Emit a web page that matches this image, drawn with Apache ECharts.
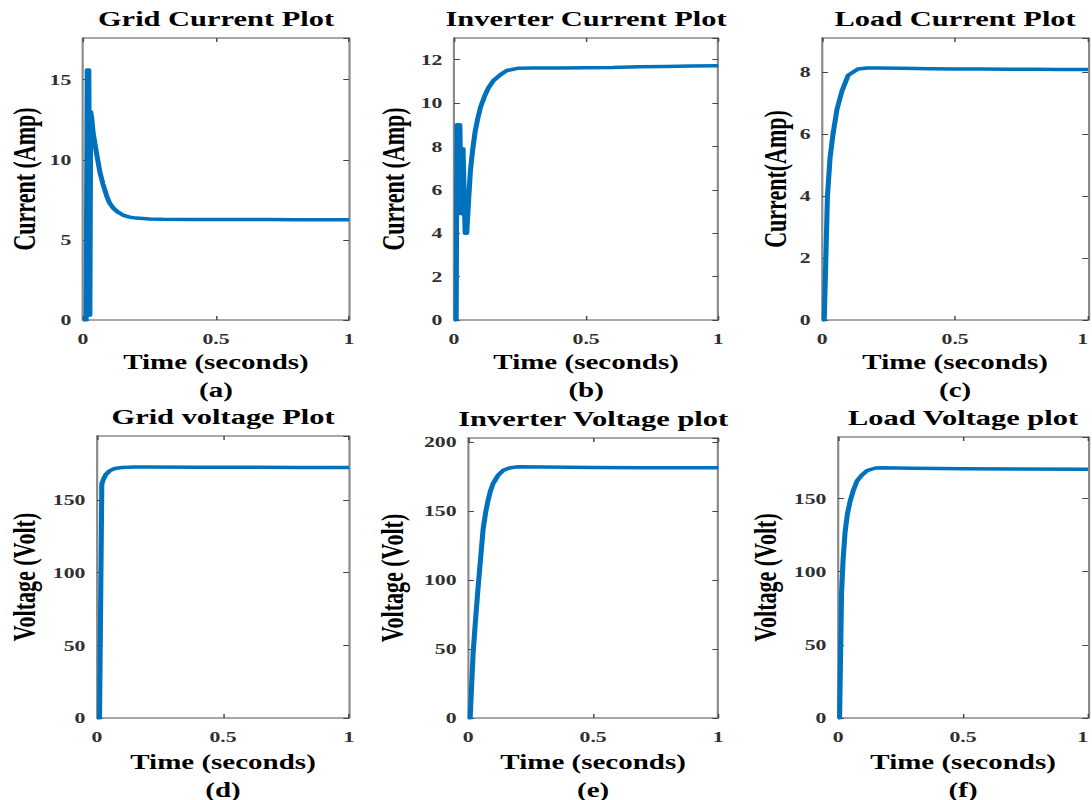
<!DOCTYPE html>
<html>
<head>
<meta charset="utf-8">
<script src="https://cdn.jsdelivr.net/npm/echarts@6/dist/echarts.min.js"></script>
<style>
  html, body { margin: 0; padding: 0; background: #fff; overflow: hidden; width: 1092px; height: 800px; }
  /* figure is laid out on a narrower canvas and widened like the exported figure */
  #chart { width: 753px; height: 800px; transform: scaleX(1.4502); transform-origin: 0 0; }
</style>
</head>
<body>
<div id="chart"></div>
<script>
// ---- simulation samples: time in seconds, values in A / V ----
const gridCurrentTime = [0, 0.012, 0.016, 0.022, 0.026, 0.029, 0.033, 0.038, 0.05, 0.064, 0.075, 0.09, 0.1, 0.113, 0.13, 0.15, 0.175, 0.2, 0.25, 0.3, 0.4, 0.5, 0.6, 0.7, 0.8, 0.9, 1.0];
const gridCurrentAmp  = [0, 0, 15.6, 15.6, 0.3, 13.0, 12.6, 11.7, 10.5, 9.2, 8.5, 7.7, 7.3, 7.0, 6.75, 6.55, 6.42, 6.36, 6.31, 6.29, 6.28, 6.28, 6.27, 6.27, 6.26, 6.26, 6.26];

const invCurrentTime = [0, 0.008, 0.011, 0.022, 0.027, 0.034, 0.042, 0.048, 0.055, 0.062, 0.07, 0.08, 0.09, 0.1, 0.115, 0.13, 0.15, 0.175, 0.2, 0.24, 0.3, 0.4, 0.5, 0.6, 0.7, 0.8, 0.9, 1.0];
const invCurrentAmp  = [0, 0, 9.0, 9.0, 4.9, 7.9, 4.0, 4.0, 5.5, 6.9, 7.8, 8.7, 9.3, 9.8, 10.3, 10.7, 11.05, 11.3, 11.5, 11.6, 11.62, 11.62, 11.63, 11.64, 11.67, 11.69, 11.71, 11.72];

const loadCurrentTime = [0, 0.008, 0.02, 0.03, 0.041, 0.056, 0.075, 0.098, 0.135, 0.17, 0.2, 0.3, 0.4, 0.5, 0.6, 0.7, 0.8, 0.9, 1.0];
const loadCurrentAmp  = [0, 0, 4.0, 5.25, 6.0, 6.8, 7.4, 7.9, 8.1, 8.13, 8.13, 8.12, 8.11, 8.1, 8.1, 8.09, 8.09, 8.08, 8.08];

const gridVoltageTime = [0, 0.01, 0.019, 0.025, 0.035, 0.05, 0.07, 0.1, 0.15, 0.2, 0.4, 0.6, 0.8, 1.0];
const gridVoltageVolt = [0, 0, 161, 164, 167.5, 170, 171.6, 172.3, 172.6, 172.6, 172.5, 172.5, 172.4, 172.4];

const invVoltageTime = [0, 0.008, 0.02, 0.03, 0.04, 0.05, 0.06, 0.07, 0.08, 0.09, 0.1, 0.12, 0.14, 0.17, 0.2, 0.3, 0.5, 0.7, 1.0];
const invVoltageVolt = [0, 0, 47, 72, 95, 116, 137, 149, 158, 165, 170, 176, 179.5, 181.5, 182.2, 182, 181.6, 181.5, 181.4];

const loadVoltageTime = [0, 0.006, 0.014, 0.02, 0.028, 0.037, 0.048, 0.062, 0.076, 0.095, 0.116, 0.15, 0.17, 0.3, 0.5, 0.7, 1.0];
const loadVoltageVolt = [0, 0, 86, 108, 127, 139, 148, 156, 162, 166, 169, 170.8, 171, 170.6, 170.3, 170.2, 170];

// ---- axis settings and texts ----
const panelTitles = ['Grid Current Plot', 'Inverter Current Plot', 'Load Current Plot',
                     'Grid voltage Plot', 'Inverter Voltage plot', 'Load Voltage plot'];
const yAxisNames  = ['Current (Amp)', 'Current (Amp)', 'Current(Amp)',
                     'Voltage (Volt)', 'Voltage (Volt)', 'Voltage (Volt)'];
const captions    = ['(a)', '(b)', '(c)', '(d)', '(e)', '(f)'];
const xAxisName   = 'Time (seconds)';
const yMax        = [17.6, 13, 9.1, 194, 203, 192];
const yStep       = [5, 2, 2, 50, 50, 50];
const xMin = 0, xMax = 1, xStep = 0.5;

const seriesTime   = [gridCurrentTime, invCurrentTime, loadCurrentTime, gridVoltageTime, invVoltageTime, loadVoltageTime];
const seriesValues = [gridCurrentAmp, invCurrentAmp, loadCurrentAmp, gridVoltageVolt, invVoltageVolt, loadVoltageVolt];

// plot boxes (px on the layout canvas); edge: right-most column keeps its last x label inside the page
const boxes = [
  { left: 57.2,  top: 38,  width: 183.5, height: 282, yGap: 29, xGap: 28, edge: false },
  { left: 313.1, top: 38,  width: 182.1, height: 282, yGap: 31, xGap: 28, edge: false },
  { left: 566.9, top: 38,  width: 183.4, height: 282, yGap: 21, xGap: 28, edge: true },
  { left: 66.9,  top: 436, width: 173.8, height: 282, yGap: 39, xGap: 30, edge: false },
  { left: 322.8, top: 438, width: 172.4, height: 280, yGap: 41, xGap: 30, edge: false },
  { left: 577.9, top: 437, width: 172.4, height: 281, yGap: 39, xGap: 30, edge: true }
];

const FONT = "'Liberation Serif', 'Times New Roman', 'DejaVu Serif', serif";
const BOX_COLOR = '#8a8a8a';
const LINE_COLOR = '#0072BD';

const grid = [], xAxis = [], yAxis = [], series = [], title = [];

boxes.forEach((b, i) => {
  grid.push({ left: b.left, top: b.top, width: b.width, height: b.height, containLabel: false, outerBoundsMode: 'none' });

  title.push({
    text: panelTitles[i],
    left: b.left + b.width / 2,
    top: b.top - 29,
    textAlign: 'center',
    padding: 0,
    textStyle: { fontFamily: FONT, fontWeight: 'bold', fontSize: 21, color: '#000' }
  });

  const boxLine = { show: true, onZero: false, lineStyle: { color: BOX_COLOR, width: 1.5 } };
  const tick = { show: true, inside: true, length: 4, lineStyle: { color: '#444', width: 1 } };
  const tickLabel = { fontFamily: FONT, fontWeight: 'bold', fontSize: 15, color: '#303030' };

  const xLabel = Object.assign({ margin: 11 }, tickLabel);
  if (b.edge) xLabel.alignMaxLabel = 'right';

  xAxis.push({
    type: 'value', gridIndex: i, position: 'bottom', min: xMin, max: xMax, interval: xStep,
    axisLine: boxLine, axisTick: tick, splitLine: { show: false },
    axisLabel: xLabel,
    name: xAxisName + '\n' + captions[i], nameLocation: 'middle', nameGap: b.xGap, nameMoveOverlap: false,
    nameTextStyle: { fontFamily: FONT, fontWeight: 'bold', fontSize: 20, lineHeight: 28, color: '#000' }
  });
  xAxis.push({
    type: 'value', gridIndex: i, position: 'top', min: xMin, max: xMax, interval: xStep,
    axisLine: boxLine, axisTick: tick, splitLine: { show: false }, axisLabel: { show: false }
  });

  yAxis.push({
    type: 'value', gridIndex: i, position: 'left', min: 0, max: yMax[i], interval: yStep[i],
    axisLine: boxLine, axisTick: tick, splitLine: { show: false },
    axisLabel: Object.assign({ margin: 8, showMaxLabel: false }, tickLabel),
    name: yAxisNames[i], nameLocation: 'middle', nameGap: b.yGap, nameMoveOverlap: false,
    nameTextStyle: { fontFamily: FONT, fontWeight: 'bold', fontSize: 22, color: '#000' }
  });
  yAxis.push({
    type: 'value', gridIndex: i, position: 'right', min: 0, max: yMax[i], interval: yStep[i],
    axisLine: boxLine, axisTick: tick, splitLine: { show: false }, axisLabel: { show: false }
  });

  series.push({
    type: 'line',
    xAxisIndex: 2 * i,
    yAxisIndex: 2 * i,
    data: seriesTime[i].map((t, k) => [t, seriesValues[i][k]]),
    showSymbol: false,
    symbol: 'none',
    clip: true,
    lineStyle: { color: LINE_COLOR, width: 3.5, join: 'round', cap: 'butt' },
    z: 1
  });
});

const chart = echarts.init(document.getElementById('chart'), null, { renderer: 'svg' });
chart.setOption({
  animation: false,
  backgroundColor: '#fff',
  title, grid, xAxis, yAxis, series
});
</script>
</body>
</html>
